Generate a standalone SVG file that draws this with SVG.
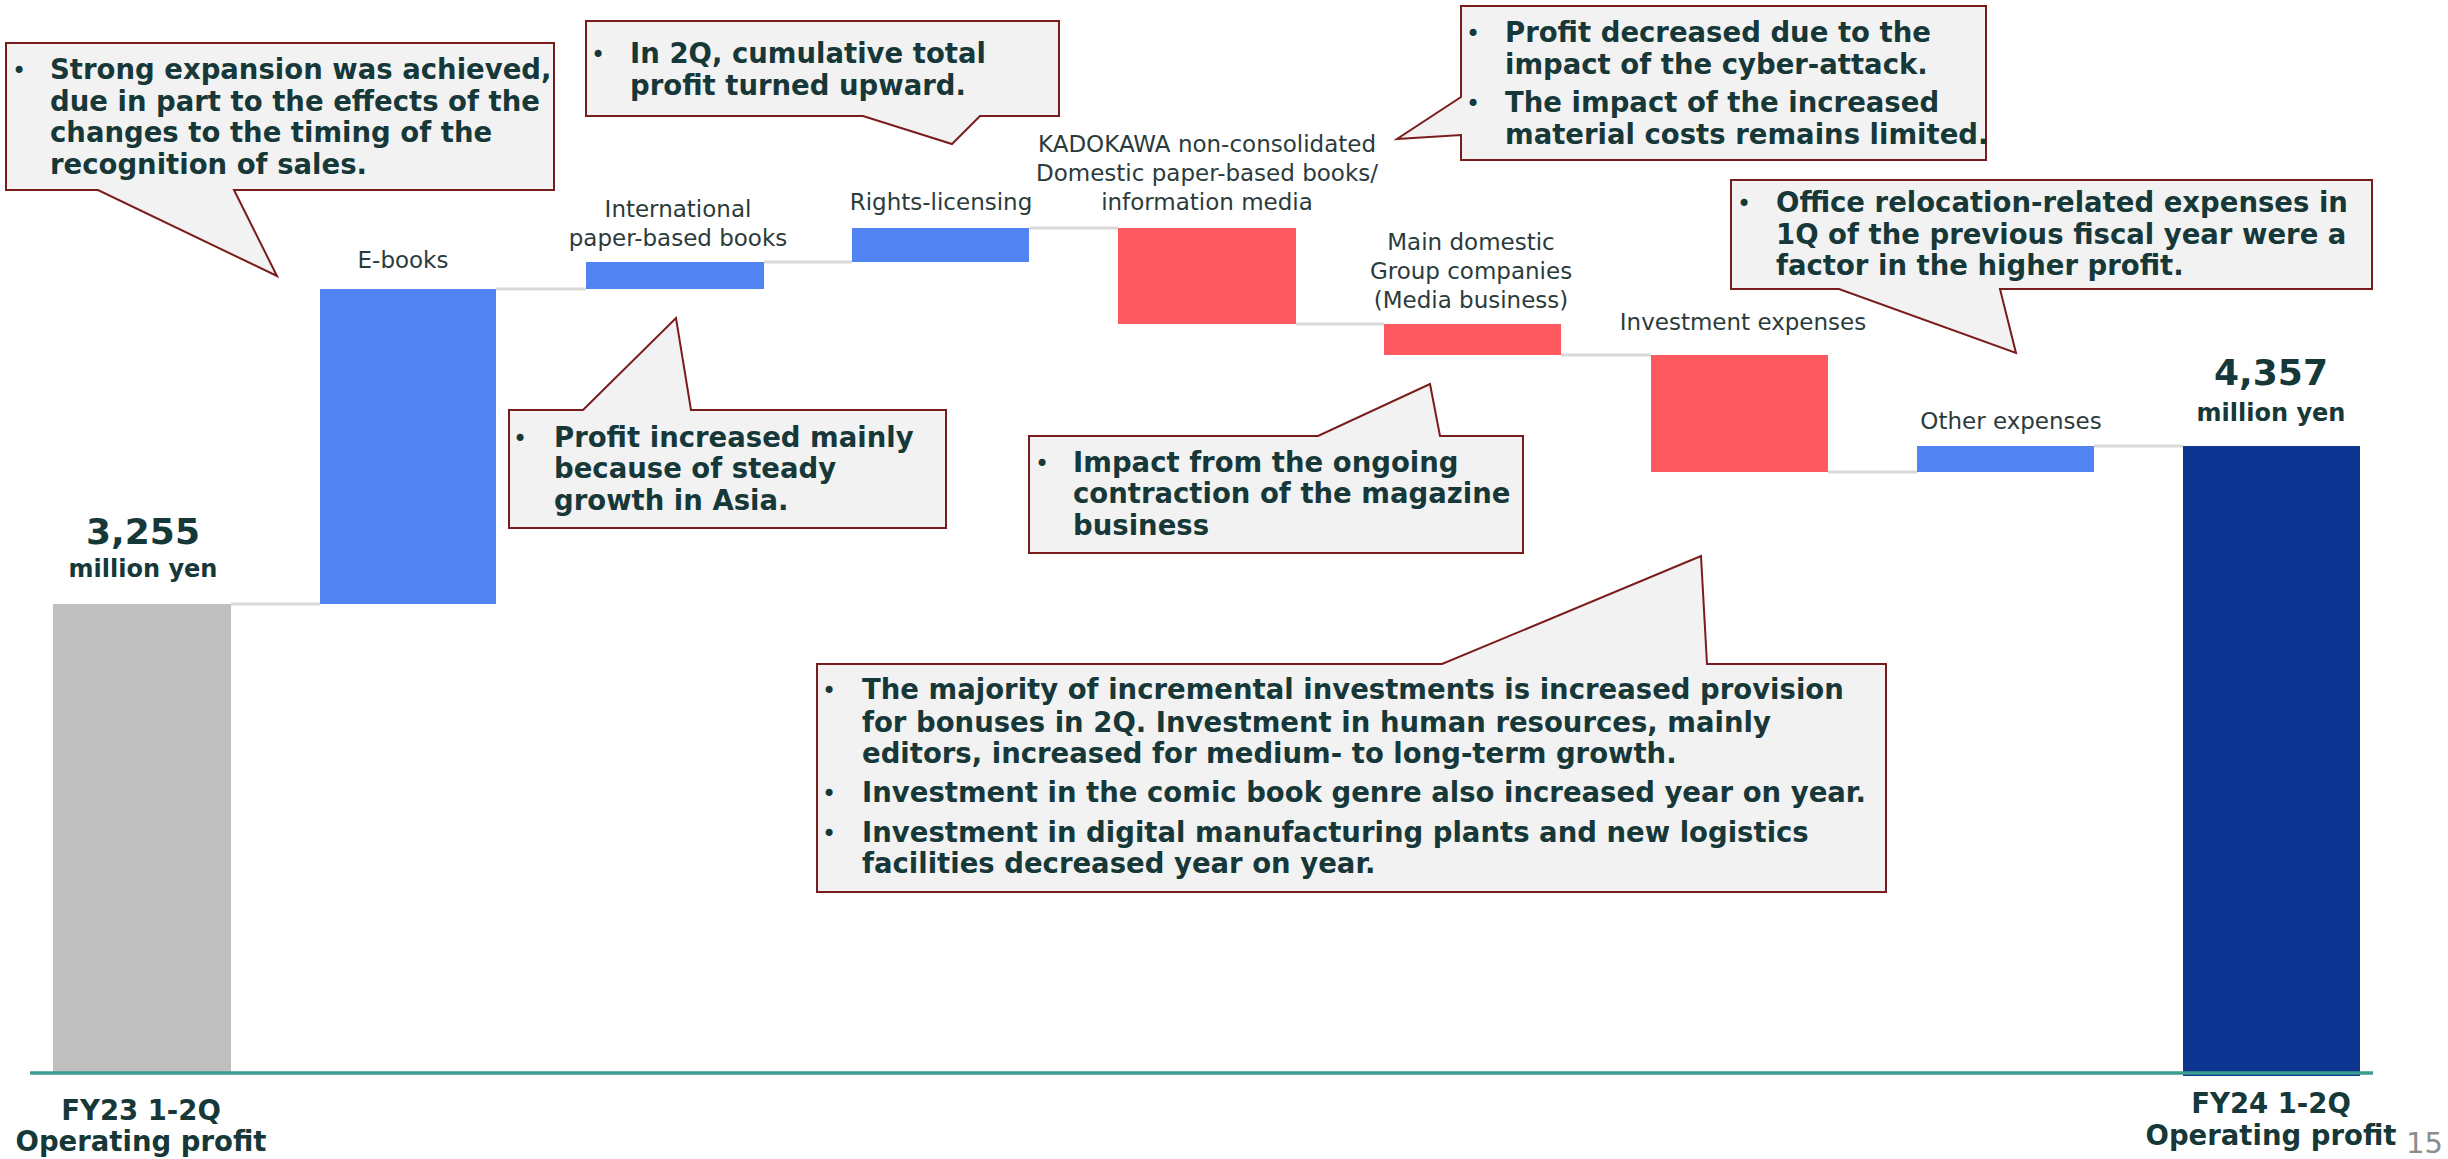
<svg xmlns="http://www.w3.org/2000/svg" width="2448" height="1159" viewBox="0 0 2448 1159">
<style>
.cat{font-family:"DejaVu Sans",Verdana,sans-serif;font-size:23px;fill:#2b3b3b;text-anchor:middle}
.call{font-family:"DejaVu Sans",Verdana,sans-serif;font-size:27.5px;font-weight:bold;fill:#173838}
.bul{font-family:"DejaVu Sans",Verdana,sans-serif;font-size:24px;font-weight:normal;fill:#173838;text-anchor:middle}
.val{font-family:"DejaVu Sans",Verdana,sans-serif;font-weight:bold;fill:#173838;text-anchor:middle}
.bubble{fill:#f2f2f2;stroke:#7a1c1c;stroke-width:2}
.conn{stroke:#d9d9d9;stroke-width:3;fill:none}
.up{fill:#5184f0}
.down{fill:#fe5960}
</style>
<rect width="2448" height="1159" fill="#ffffff"/>

<g id="connectors">
<line class="conn" x1="231" y1="604" x2="320" y2="604"/>
<line class="conn" x1="496" y1="289" x2="586" y2="289"/>
<line class="conn" x1="764" y1="262" x2="852" y2="262"/>
<line class="conn" x1="1029" y1="228" x2="1118" y2="228"/>
<line class="conn" x1="1296" y1="324" x2="1384" y2="324"/>
<line class="conn" x1="1561" y1="355" x2="1651" y2="355"/>
<line class="conn" x1="1828" y1="472" x2="1917" y2="472"/>
<line class="conn" x1="2094" y1="446" x2="2183" y2="446"/>
</g>

<g id="bar-fy23">
<rect x="53" y="604" width="178" height="468" fill="#bfbfbf"/>
<text class="val" x="143" y="544" font-size="36">3,255</text>
<text class="val" x="143" y="577" font-size="24">million yen</text>
<text class="val" x="141" y="1120" font-size="27.5">FY23 1-2Q</text>
<text class="val" x="141" y="1151" font-size="27.5">Operating profit</text>
</g>

<g id="bar-ebooks">
<rect class="up" x="320" y="289" width="176" height="315"/>
<text class="cat" x="403" y="268">E-books</text>
</g>

<g id="bar-international">
<rect class="up" x="586" y="262" width="178" height="27"/>
<text class="cat" x="678" y="217">International</text>
<text class="cat" x="678" y="246">paper-based books</text>
</g>

<g id="bar-rights">
<rect class="up" x="852" y="228" width="177" height="34"/>
<text class="cat" x="941" y="210">Rights-licensing</text>
</g>

<g id="bar-kadokawa">
<rect class="down" x="1118" y="228" width="178" height="96"/>
<text class="cat" x="1207" y="152">KADOKAWA non-consolidated</text>
<text class="cat" x="1207" y="181">Domestic paper-based books/</text>
<text class="cat" x="1207" y="210">information media</text>
</g>

<g id="bar-main-domestic">
<rect class="down" x="1384" y="324" width="177" height="31"/>
<text class="cat" x="1471" y="250">Main domestic</text>
<text class="cat" x="1471" y="279">Group companies</text>
<text class="cat" x="1471" y="308">(Media business)</text>
</g>

<g id="bar-investment">
<rect class="down" x="1651" y="355" width="177" height="117"/>
<text class="cat" x="1743" y="330">Investment expenses</text>
</g>

<g id="bar-other">
<rect class="up" x="1917" y="446" width="177" height="26"/>
<text class="cat" x="2011" y="429">Other expenses</text>
</g>

<g id="bar-fy24">
<rect x="2183" y="446" width="177" height="630" fill="#0d3591"/>
<text class="val" x="2271" y="385" font-size="36">4,357</text>
<text class="val" x="2271" y="421" font-size="24">million yen</text>
<text class="val" x="2271" y="1113" font-size="27.5">FY24 1-2Q</text>
<text class="val" x="2271" y="1145" font-size="27.5">Operating profit</text>
</g>

<g id="axis">
<line x1="30" y1="1073" x2="2373" y2="1073" stroke="#3a9e8e" stroke-width="3.5"/>
</g>

<g id="callout-ebooks">
<path class="bubble" d="M6,43 H554 V190 H234 L277,276 L98,190 H6 Z"/>
<text class="bul" x="19" y="79">•</text>
<text class="call" x="50" y="79">Strong expansion was achieved,</text>
<text class="call" x="50" y="111">due in part to the effects of the</text>
<text class="call" x="50" y="142">changes to the timing of the</text>
<text class="call" x="50" y="174">recognition of sales.</text>
</g>

<g id="callout-2q">
<path class="bubble" d="M586,21 H1059 V116 H980 L952,144 L863,116 H586 Z"/>
<text class="bul" x="598" y="63">•</text>
<text class="call" x="630" y="63">In 2Q, cumulative total</text>
<text class="call" x="630" y="95">profit turned upward.</text>
</g>

<g id="callout-international">
<path class="bubble" d="M509,410 H583 L676,318 L691,410 H946 V528 H509 Z"/>
<text class="bul" x="520" y="447">•</text>
<text class="call" x="554" y="447">Profit increased mainly</text>
<text class="call" x="554" y="478">because of steady</text>
<text class="call" x="554" y="510">growth in Asia.</text>
</g>

<g id="callout-cyber">
<path class="bubble" d="M1461,6 H1986 V160 H1461 V135 L1397,139 L1461,97 Z"/>
<text class="bul" x="1473" y="42">•</text>
<text class="call" x="1505" y="42">Profit decreased due to the</text>
<text class="call" x="1505" y="74">impact of the cyber-attack.</text>
<text class="bul" x="1473" y="112">•</text>
<text class="call" x="1505" y="112">The impact of the increased</text>
<text class="call" x="1505" y="144">material costs remains limited.</text>
</g>

<g id="callout-office">
<path class="bubble" d="M1731,180 H2372 V289 H2000 L2016,353 L1839,289 H1731 Z"/>
<text class="bul" x="1744" y="212">•</text>
<text class="call" x="1776" y="212">Office relocation-related expenses in</text>
<text class="call" x="1776" y="244">1Q of the previous fiscal year were a</text>
<text class="call" x="1776" y="275">factor in the higher profit.</text>
</g>

<g id="callout-magazine">
<path class="bubble" d="M1029,436 H1318 L1430,384 L1440,436 H1523 V553 H1029 Z"/>
<text class="bul" x="1042" y="472">•</text>
<text class="call" x="1073" y="472">Impact from the ongoing</text>
<text class="call" x="1073" y="503">contraction of the magazine</text>
<text class="call" x="1073" y="535">business</text>
</g>

<g id="callout-investment">
<path class="bubble" d="M817,664 H1442 L1701,556 L1707,664 H1886 V892 H817 Z"/>
<text class="bul" x="829" y="699">•</text>
<text class="call" x="862" y="699">The majority of incremental investments is increased provision</text>
<text class="call" x="862" y="732">for bonuses in 2Q. Investment in human resources, mainly</text>
<text class="call" x="862" y="763">editors, increased for medium- to long-term growth.</text>
<text class="bul" x="829" y="802">•</text>
<text class="call" x="862" y="802">Investment in the comic book genre also increased year on year.</text>
<text class="bul" x="829" y="842">•</text>
<text class="call" x="862" y="842">Investment in digital manufacturing plants and new logistics</text>
<text class="call" x="862" y="873">facilities decreased year on year.</text>
</g>

<g id="page-number">
<text x="2406" y="1153" font-family="DejaVu Sans, Verdana, sans-serif" font-size="29" fill="#8c8c8c">15</text>
</g>
</svg>
